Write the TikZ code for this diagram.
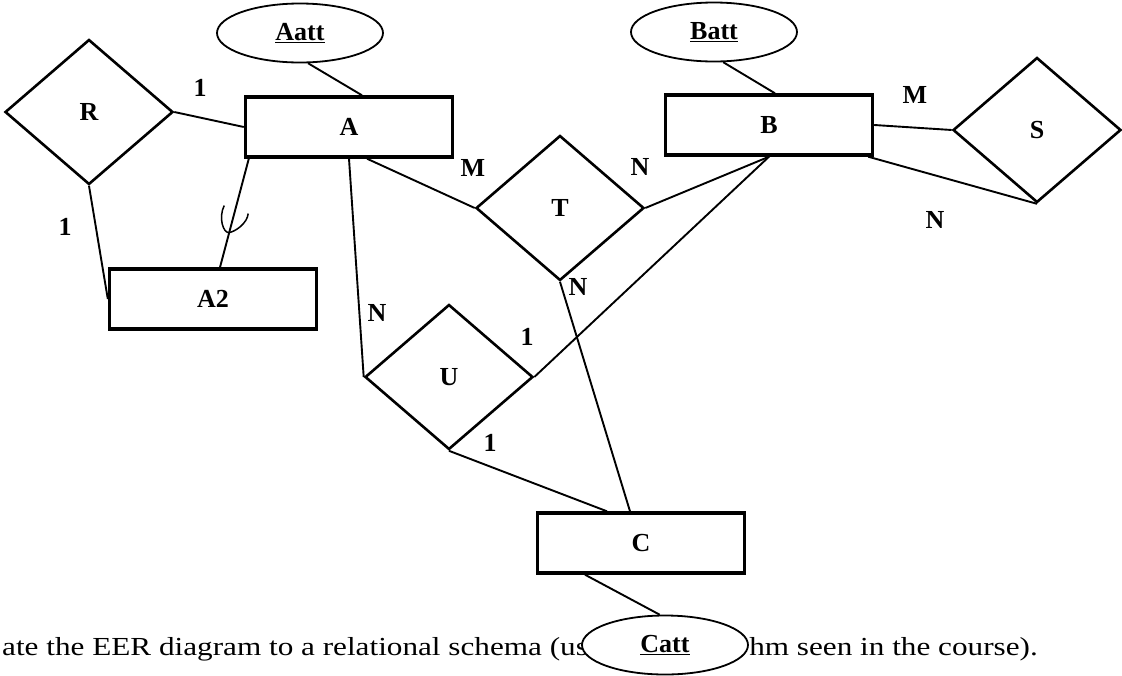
\documentclass[tikz,border=0pt]{standalone}
\usepackage{fontspec}
\setmainfont{Liberation Serif}
\newfontfamily\wideserif[FakeStretch=1.2]{Liberation Serif}
\usetikzlibrary{shapes.geometric}

\begin{document}
\begin{tikzpicture}[
    x=1pt, y=-1pt, font=\fontsize{26}{30}\selectfont\bfseries,
    entity/.style={draw, line width=3.4pt, minimum width=207pt, minimum height=60pt, inner sep=0pt},
    relation/.style={draw, diamond, line width=2.6pt, minimum width=168pt, minimum height=145pt, inner sep=0pt},
    attrib/.style={draw, ellipse, line width=1.8pt, fill=white, minimum width=166pt, minimum height=59pt, inner sep=0pt},
    link/.style={line width=1.9pt},
    card/.style={inner sep=0pt},
    caption/.style={font=\fontsize{26}{30}\selectfont\wideserif, inner sep=0pt}
]
    \useasboundingbox (0,0) rectangle (1122,675);

    % question text (partly hidden by Catt)
    \node[caption, anchor=base west] (q1) at (2,655) {ate the EER diagram to a relational schema (us};
    \node[caption, anchor=base east] (q2) at (1038,655) {hm seen in the course).};

    % entities
    \node[entity] (A)  at (349,127) {A};
    \node[entity] (B)  at (769,125) {B};
    \node[entity] (C)  at (641,543) {C};
    \node[entity] (A2) at (213,299) {A2};

    % relationships
    \node[relation] (R) at (89,112)   {R};
    \node[relation] (T) at (560,208)  {T};
    \node[relation] (U) at (449,377)  {U};
    \node[relation] (S) at (1037,130) {S};

    % key attributes
    \node[attrib] (Aatt) at (300,33)  {\underline{Aatt}};
    \node[attrib] (Batt) at (714,32)  {\underline{Batt}};
    \node[attrib] (Catt) at (665,645) {\underline{Catt}};

    \draw[link] (Aatt.-75) -- ([xshift=13pt]A.north);
    \draw[link] (Batt.-73) -- ([xshift=6pt]B.north);
    \draw[link] ([xshift=-56pt]C.south) -- (Catt.100);

    \draw[link] (R.east) -- (A.west);
    \draw[link] (R.south) -- (A2.west);
    \draw[link] ([xshift=5pt]A.south west) -- coordinate[pos=0.68] (sub) ([xshift=7pt]A2.north);
    \draw[line width=1.5pt] ([shift={(-5,-27)}]sub) .. controls +(-6,12) and +(-6,1) .. (sub)
        .. controls +(6,-1) and +(-1,10) .. ([shift={(19,-19)}]sub);

    \draw[link] (A.south) -- (U.west);
    \draw[link] ([xshift=18pt]A.south) -- (T.west);
    \draw[link] (B.south) -- (T.east);
    \draw[link] (B.south) -- (U.east);
    \draw[link] (B.east) -- (S.west);
    \draw[link] ([xshift=-6pt]B.south east) -- (S.south);
    \draw[link] (T.south) -- ([xshift=-11pt]C.north);
    \draw[link] (U.south) -- ([xshift=-34pt]C.north);

    % cardinalities
    \node[card] (c1)  at (200,88)  {1};
    \node[card] (c2)  at (65,227)  {1};
    \node[card] (c3)  at (377,313) {N};
    \node[card] (c4)  at (473,168) {M};
    \node[card] (c5)  at (640,167) {N};
    \node[card] (c6)  at (578,287) {N};
    \node[card] (c7)  at (527,337) {1};
    \node[card] (c8)  at (490,443) {1};
    \node[card] (c9)  at (915,95)  {M};
    \node[card] (c10) at (935,220) {N};
\end{tikzpicture}
\end{document}
